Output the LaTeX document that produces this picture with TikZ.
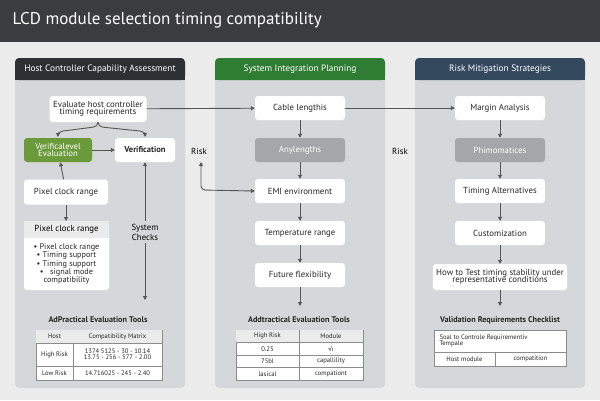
\documentclass[tikz,border=0pt]{standalone}
\usepackage{fontspec}
\setmainfont{PT Sans}
\usetikzlibrary{arrows.meta,positioning}
\definecolor{bg}{HTML}{ECECEC}
\definecolor{titlebar}{HTML}{3A3C40}
\definecolor{panel}{HTML}{D5D7DA}
\definecolor{hdark}{HTML}{2E3033}
\definecolor{hgreen}{HTML}{2E7D32}
\definecolor{hnavy}{HTML}{34495E}
\definecolor{gbox}{HTML}{6A9A3A}
\definecolor{dbox}{HTML}{A4A6A9}
\definecolor{arr}{HTML}{555555}
\tikzset{
 box/.style={draw=none,fill=white,rounded corners=3pt,align=center,font=\fontsize{8.8}{9.5}\selectfont,text=black!85},
 arw/.style={draw=arr,line width=0.9pt,-{Triangle[length=4pt,width=4pt]}},
 darw/.style={draw=arr,line width=0.9pt,{Triangle[length=4pt,width=4pt]}-{Triangle[length=4pt,width=4pt]}},
 hdr/.style={font=\fontsize{9.3}{10}\selectfont,text=white},
 ttl/.style={font=\bfseries\fontsize{8.2}{9}\selectfont,text=black!85},
 cell/.style={font=\fontsize{6.6}{7}\selectfont,text=black!85,align=center},
}
\begin{document}
\begin{tikzpicture}[x=1pt,y=-1pt]
\useasboundingbox (0,0) rectangle (600,400);
\fill[bg] (0,0) rectangle (600,400);
\fill[titlebar] (0,0) rectangle (600,42);
\node[anchor=west,text=white,font=\fontsize{17}{19}\selectfont] (title) at (9,20) {LCD module selection timing compatibility};
% panels
\foreach \x/\c/\t/\n in {15/hdark/Host Controller Capability Assessment/p1,215/hgreen/System Integration Planning/p2,415/hnavy/Risk Mitigation Strategies/p3}{
 \fill[panel,rounded corners=4pt] (\x,58) rectangle ++(170,330);
 \fill[\c,rounded corners=4pt] (\x,58) rectangle ++(170,22);
 \fill[\c] (\x,70) rectangle ++(170,10);
 \node[hdr] (\n) at (\x+85,69) {\t};
}
% panel 1
\node[box,minimum width=97pt,minimum height=26pt] (eval) at (98,109) {Evaluate host controller\\[-2pt]timing requirements};
\node[box,fill=gbox,text=white,minimum width=68pt,minimum height=24pt] (vlev) at (58,150) {Verificalevel\\[-2pt]Evaluation};
\node[box,minimum width=60pt,minimum height=24pt,font=\bfseries\fontsize{8.5}{9}\selectfont] (verif) at (145,150) {Verification};
\node[box,minimum width=84pt,minimum height=25pt] (pcr) at (66,192) {Pixel clock range};
\fill[white,rounded corners=3pt] (24,221) rectangle (109,290);
\fill[black!8] (24,221) rectangle (109,238);
\node[font=\fontsize{8.8}{9}\selectfont] (lhead) at (66.5,229.5) {Pixel clock range};
\node[font=\fontsize{8.2}{8.3}\selectfont,align=center,text=black!85] (list) at (66.5,264) {• Pixel clock range\\• Timing support\\• Timing support\\• \ \ signal mode\\compatibility};
\coordinate (lb) at (66,221);
\node[font=\fontsize{8.8}{10}\selectfont,align=center,inner sep=1pt] (sys) at (145,232) {System\\Checks};
\coordinate (sysend) at (145,300);
\draw[arw] (eval.south) to[out=-90,in=0] ++(-5,5) -- (63,131) to[out=180,in=90] (58,137);
\draw[arw] (eval.south) to[out=-90,in=180] ++(5,5) -- (140,131) to[out=0,in=90] (145,137);
\draw[arw] (vlev) -- (verif);
\draw[arw] (pcr) -- (vlev);
\draw[arw] (pcr) -- (lb);
\draw[arw] (sys.north) ++(0,-2) -- (verif.south);
\draw[arw] (sys.south) ++(0,2) -- (sysend);
\node[ttl] (t1) at (98,320) {AdPractical Evaluation Tools};
\draw[black!45,fill=white,line width=0.4pt] (36,330) rectangle (162,380);
\draw[black!45,line width=0.4pt] (36,343)--(162,343) (36,366)--(162,366) (73,330)--(73,380);
\fill[black!8] (36.2,330.2) rectangle (161.8,342.8);
\node[cell] (c11) at (54.5,336.5) {Host};
\node[cell] (c12) at (117.5,336.5) {Compatibility Matrix};
\node[cell] (c21) at (54.5,354.5) {High Risk};
\node[cell] (c22) at (117.5,354.5) {1374 5125 - 30 - 10.14\\[-1pt]13.75 - 256 - 577 - 2.00};
\node[cell] (c31) at (54.5,373) {Low Risk};
\node[cell] (c32) at (117.5,373) {14.716025 - 245 - 2.40};
% panel 2
\node[box,minimum width=90pt,minimum height=24pt] (cable) at (300,108) {Cable lengthis};
\node[box,fill=dbox,text=white,minimum width=90pt,minimum height=24pt] (any) at (300,150) {Anylengths};
\node[box,minimum width=90pt,minimum height=24pt] (emi) at (300,191) {EMI environment};
\node[box,minimum width=90pt,minimum height=24pt] (temp) at (300,233) {Temperature range};
\node[box,minimum width=90pt,minimum height=24pt] (fut) at (300,275) {Future flexibility};
\coordinate (e2) at (300,306);
\draw[arw] (eval) -- (cable);
\draw[arw] (cable)--(any); \draw[arw] (any)--(emi); \draw[arw] (emi)--(temp); \draw[arw] (temp)--(fut); \draw[arw] (fut)--(e2);
\node[font=\fontsize{8.8}{9}\selectfont] (risk1) at (199,151) {Risk};
\draw[darw,rounded corners=4pt] (201,162) -- (201,190) -- (emi.west);
\node[ttl] (t2) at (299,320) {Addtractical Evaluation Tools};
\draw[black!45,fill=white,line width=0.4pt] (236,330) rectangle (363,380);
\fill[black!8] (236.2,330.2) rectangle (362.8,342.3);
\draw[black!45,line width=0.4pt] (236,342.5)--(363,342.5) (236,355)--(363,355) (236,367.5)--(363,367.5) (299,330)--(299,380);
\node[cell] (d11) at (267.5,336.3) {High Risk};
\node[cell] (d12) at (331,336.3) {Module};
\node[cell] (d21) at (267.5,348.8) {0.25};
\node[cell] (d22) at (331,348.8) {√ı};
\node[cell] (d31) at (267.5,361.3) {75bl};
\node[cell] (d32) at (331,361.3) {capallility};
\node[cell] (d41) at (267.5,373.8) {lasical};
\node[cell] (d42) at (331,373.8) {compationt};
% panel 3
\node[box,minimum width=90pt,minimum height=24pt] (marg) at (500,108) {Margin Analysis};
\node[box,fill=dbox,text=white,minimum width=90pt,minimum height=24pt] (phi) at (500,150) {Phimomatices};
\node[box,minimum width=90pt,minimum height=24pt] (talt) at (500,191) {Timing Alternatives};
\node[box,minimum width=90pt,minimum height=24pt] (cust) at (500,233) {Customization};
\node[box,minimum width=134pt,minimum height=26pt] (how) at (500,277) {How to Test timing stability under\\[-2pt]representative conditions};
\coordinate (e3) at (500,306);
\draw[arw] (cable) -- (marg);
\draw[arw] (marg)--(phi); \draw[arw] (phi)--(talt); \draw[arw] (talt)--(cust); \draw[arw] (cust)--(how); \draw[arw] (how)--(e3);
\node[font=\fontsize{8.8}{9}\selectfont] (risk2) at (400,151) {Risk};
\node[ttl] (t3) at (500,320) {Validation Requirements Checklist};
\draw[black!45,fill=white,line width=0.4pt] (434,330) rectangle (566,366);
\draw[black!45,line width=0.4pt] (434,352)--(566,352) (495,352)--(495,366);
\node[cell,align=left,anchor=north west] (v1) at (436,331) {Soal to Controle Requirementiv\\[-1pt]Tempale};
\node[cell] (v2) at (464.5,359) {Host module};
\node[cell] (v3) at (530.5,359) {compatition};
\end{tikzpicture}
\end{document}
